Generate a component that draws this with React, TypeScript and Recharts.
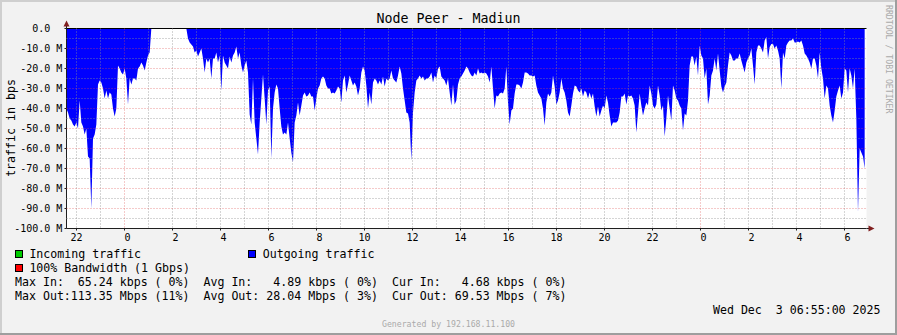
import React from 'react';
import { ComposedChart, Area, XAxis, YAxis, CartesianGrid, ReferenceLine } from 'recharts';

// Outgoing traffic in Mbps (drawn negative), one sample every 250 s, starting 21:35 two days before
const outEvening = [
  -40, -42, -45, -46, -48, -49, -47, -50, -36, -47,
  -49, -53, -50, -64, -65, -90, -55, -53, -48, -28,
  -26, -27, -30, -35, -31, -35, -32, -33, -40, -44,
  -40, -18.5, -20, -22, -23, -20, -25, -38, -25, -28,
  -25, -25, -26, -20, -19, -17, -18.5, -21, -17, -13.5,
  -12, 0, 0, 0, 0, 0, 0, 0, 0, 0,
  0, 0, 0, 0, 0, 0, 0, 0, 0, 0,
  0, 0, 0, -5, -7, -8, -9, -12, -11, -14,
  -12, -10, -15, -22, -15, -17, -15, -25, -15, -15,
  -12, -17, -13.5, -31, -13.5, -17, -18.5, -20, -14, -17,
  -13.5, -12, -9, -15, -12, -18.5, -22, -18.5, -16, -22,
  -43, -48, -25, -47, -55, -63, -47, -35, -23, -35,
];
const outMorning = [
  -48, -31, -29, -65, -40, -32, -28, -30, -40, -49,
  -53, -52, -53, -47, -55, -62, -67, -47, -43.5, -37,
  -43.5, -38.5, -33.5, -32, -34, -33.5, -32, -34, -34, -41,
  -35, -30, -28.5, -25, -24, -25, -28.5, -30, -30, -32.5,
  -32, -32.5, -31, -29, -30, -37, -26, -23.5, -32, -28,
  -23.5, -26, -28.5, -27, -29, -33.5, -30, -22, -19, -21,
  -28.5, -40, -32, -38, -27, -25, -26, -28, -26, -28,
  -24, -29, -25, -26, -25, -21, -25, -26, -27, -23.5,
  -19, -22.5, -30, -36, -42, -42.5, -47, -66, -42, -32,
  -26, -25, -23.5, -25, -24, -26, -25, -25, -24, -22,
  -27, -23.5, -25, -20, -19, -24, -25, -26, -28.5, -25,
  -32, -38.5, -28, -38, -36, -28, -25, -24, -22.5, -21,
];
const outAfternoon = [
  -19, -20, -22, -23.5, -24, -22, -23.5, -20, -22.5, -22,
  -22.5, -22, -22.5, -24, -27, -19, -30, -40, -33.5, -34,
  -32.5, -32, -32.5, -30, -19, -37, -48, -41, -40, -32.5,
  -28, -28, -28.5, -30, -27, -22, -22, -22.5, -23.5, -23.5,
  -24, -23.5, -28.5, -32, -33.5, -35, -40, -48.5, -37, -32.5,
  -34, -32, -23.5, -29, -38, -36, -32, -25, -30, -32,
  -36, -42, -44, -38.5, -32.5, -28.5, -29, -31, -32, -30,
  -34, -31, -32, -35, -32, -35, -32.5, -39, -44, -39,
  -44, -41, -38.5, -40, -33.5, -37, -43.5, -49, -47, -47,
  -47, -46, -42, -34, -34, -32.5, -38, -33.5, -34, -33.5,
  -35, -38.5, -52, -42, -32.5, -38.5, -43.5, -40, -37, -38.5,
  -28.5, -32.5, -38.5, -40, -38, -28.5, -33.5, -41, -38.5, -54,
];
const outNight = [
  -45, -33.5, -40, -46, -28.5, -31, -35, -36, -38.5, -40,
  -51, -42.5, -43.5, -36, -18.5, -14, -14, -18.5, -14, -23.5,
  -8.5, -13.5, -15, -25, -20, -38, -33.5, -23.5, -21, -15,
  -21, -12.5, -21, -29, -32, -29, -27, -18.5, -12, -13.5,
  -16, -16, -15, -15, -12.5, -16, -19, -22, -17, -15,
  -13.5, -10, -18.5, -28, -12, -8.5, -8.5, -10, -12, -6,
  -4.3, -15, -9.3, -7.7, -7.7, -10, -8.5, -11, -15, -30,
  -12, -15, -8.5, -7, -6, -6, -5, -7, -7, -6.5,
  -7, -6, -8.5, -12.5, -13.5, -15, -17, -20, -15, -15,
  -18.5, -25, -12, -20, -25, -35, -28.5, -30, -38.5, -43.5,
  -47, -41, -34, -31, -28.5, -35, -32, -20, -21, -32,
  -20, -23.5, -30, -20, -45, -92, -60, -62, -64, -70,
];

const outgoing = [...outEvening, ...outMorning, ...outAfternoon, ...outNight];
const START_HOUR = -2.4236; // hours relative to first midnight
const STEP_HOUR = 250 / 3600;
const X_DOMAIN: [number, number] = [-2.41667, 30.91667];

const data = outgoing.map((v, i) => ({ t: START_HOUR + i * STEP_HOUR, out: v }));

const xTicks = [-2, 0, 2, 4, 6, 8, 10, 12, 14, 16, 18, 20, 22, 24, 26, 28, 30];
const hourGrid = [-2, -1, 1, 2, 3, 4, 5, 6, 7, 8, 9, 10, 11, 12, 13, 14, 15, 16, 17, 18, 19, 20, 21, 22, 23, 25, 26, 27, 28, 29, 30];
const midnightGrid = [0, 24];
const yTicks = [0, -10, -20, -30, -40, -50, -60, -70, -80, -90, -100];
const yMinorGrid = [-5, -15, -25, -35, -45, -55, -65, -75, -85, -95];
const yMajorGrid = [-10, -20, -30, -40, -50, -60, -70, -80, -90];

const statsIn = 'Max In:  65.24 kbps ( 0%)  Avg In:   4.89 kbps ( 0%)  Cur In:   4.68 kbps ( 0%)';
const statsOut = 'Max Out:113.35 Mbps (11%)  Avg Out: 28.04 Mbps ( 3%)  Cur Out: 69.53 Mbps ( 7%)';

const MONO = '"DejaVu Sans Mono", monospace';

const hourLabel = (h: number) => {
  const v = ((h % 24) + 24) % 24;
  return v < 10 ? ' ' + v : String(v);
};
const yLabel = (v: number) => (v === 0 ? '0.0  ' : v.toFixed(1) + ' M');

const XTick = (props: any) => {
  const { x, y, payload } = props;
  return (
    <text x={x} y={y} dy="0.71em" textAnchor="middle" fontSize={10} fontFamily={MONO} fill="#000" style={{ whiteSpace: 'pre' }}>
      {hourLabel(payload.value)}
    </text>
  );
};
const YTick = (props: any) => {
  const { x, y, payload } = props;
  return (
    <text x={x} y={y} dy="0.355em" textAnchor="end" fontSize={10} fontFamily={MONO} fill="#000" style={{ whiteSpace: 'pre' }}>
      {yLabel(payload.value)}
    </text>
  );
};

export default function App() {
  return (
    <div style={{ position: 'absolute', left: 0, top: 0, width: 897, height: 335, background: '#F2F2F2', overflow: 'hidden' }}>
      <div style={{ position: 'absolute', left: 0, top: 0 }}>
        <ComposedChart width={897} height={335} data={data} margin={{ top: 28.5, right: 30.5, bottom: 76.5, left: 0 }}>
          <CartesianGrid fill="#FFFFFF" horizontal={false} vertical={false} stroke="none" />
          <XAxis
            dataKey="t"
            type="number"
            domain={X_DOMAIN}
            ticks={xTicks}
            allowDataOverflow
            interval={0}
            height={30}
            tickSize={2}
            tickMargin={3.4}
            tick={<XTick />}
            axisLine={{ stroke: '#1F1F1F' }}
            tickLine={{ stroke: '#1F1F1F' }}
          />
          <YAxis
            type="number"
            domain={[-100, 0]}
            ticks={yTicks}
            allowDataOverflow
            interval={0}
            width={66.5}
            tickSize={2}
            tickMargin={2.2}
            tick={<YTick />}
            axisLine={{ stroke: '#1F1F1F' }}
            tickLine={{ stroke: '#1F1F1F' }}
          />
          <Area
            dataKey="out"
            type="linear"
            baseValue={0}
            fill="#0000FF"
            fillOpacity={1}
            stroke="none"
            dot={false}
            activeDot={false}
            isAnimationActive={false}
          />
          <CartesianGrid
            horizontalValues={yMinorGrid}
            verticalValues={hourGrid}
            stroke="rgba(143,143,143,0.75)"
            strokeDasharray="1 2"
            fill="none"
            {...({ zIndex: 600 } as any)}
          />
          <CartesianGrid
            horizontalValues={yMajorGrid}
            verticalValues={midnightGrid}
            stroke="rgba(222,79,79,0.6)"
            strokeDasharray="1 2"
            fill="none"
            {...({ zIndex: 601 } as any)}
          />
          <ReferenceLine y={0} stroke="#000000" strokeWidth={1} ifOverflow="extendDomain" />
        </ComposedChart>
      </div>
      <svg width={897} height={335} style={{ position: 'absolute', left: 0, top: 0, pointerEvents: 'none' }}>
        {/* 3D frame */}
        <rect x={0} y={0} width={897} height={2} fill="#CFCFCF" />
        <rect x={0} y={0} width={2} height={335} fill="#CFCFCF" />
        <rect x={0} y={333} width={897} height={2} fill="#9E9E9E" />
        <rect x={895} y={0} width={2} height={335} fill="#9E9E9E" />
        {/* axis arrows */}
        <line x1={66.5} y1={28.5} x2={66.5} y2={24} stroke="#1F1F1F" />
        <polygon points="66.5,20.5 63.5,26.5 69.5,26.5" fill="#801F1F" />
        <line x1={866.5} y1={228.5} x2={870} y2={228.5} stroke="#1F1F1F" />
        <polygon points="874.5,228.5 868.5,225.5 868.5,231.5" fill="#801F1F" />
        {/* title */}
        <text x={448.5} y={23} textAnchor="middle" fontSize={13.3} fontFamily={MONO} fill="#000">Node Peer - Madiun</text>
        {/* vertical label */}
        <text transform="translate(15,128) rotate(-90)" textAnchor="middle" fontSize={11.6} fontFamily={MONO} fill="#000">traffic in bps</text>
        {/* watermark */}
        <text transform="translate(885.5,5) rotate(90)" fontSize={8.2} fontFamily={MONO} fill="#AAAAAA">RRDTOOL / TOBI OETIKER</text>
        {/* legend */}
        <rect x={15.5} y={250.5} width={7} height={7} fill="#00CC00" stroke="#000" />
        <text x={29.4} y={257.5} fontSize={11.6} fontFamily={MONO} fill="#000">Incoming traffic</text>
        <rect x={248.5} y={250.5} width={7} height={7} fill="#0000FF" stroke="#000" />
        <text x={262.7} y={257.5} fontSize={11.6} fontFamily={MONO} fill="#000">Outgoing traffic</text>
        <rect x={15.5} y={264.5} width={7} height={7} fill="#FF0000" stroke="#000" />
        <text x={29.4} y={271.5} fontSize={11.6} fontFamily={MONO} fill="#000">100% Bandwidth (1 Gbps)</text>
        <text x={15} y={285.5} fontSize={11.6} fontFamily={MONO} fill="#000" style={{ whiteSpace: 'pre' }}>{statsIn}</text>
        <text x={15} y={299.5} fontSize={11.6} fontFamily={MONO} fill="#000" style={{ whiteSpace: 'pre' }}>{statsOut}</text>
        <text x={880.5} y={314} textAnchor="end" fontSize={11.6} fontFamily={MONO} fill="#000" style={{ whiteSpace: 'pre' }}>Wed Dec  3 06:55:00 2025</text>
        <text x={448.5} y={326.7} textAnchor="middle" fontSize={8.2} fontFamily={MONO} fill="#AAAAAA">Generated by 192.168.11.100</text>
      </svg>
    </div>
  );
}
